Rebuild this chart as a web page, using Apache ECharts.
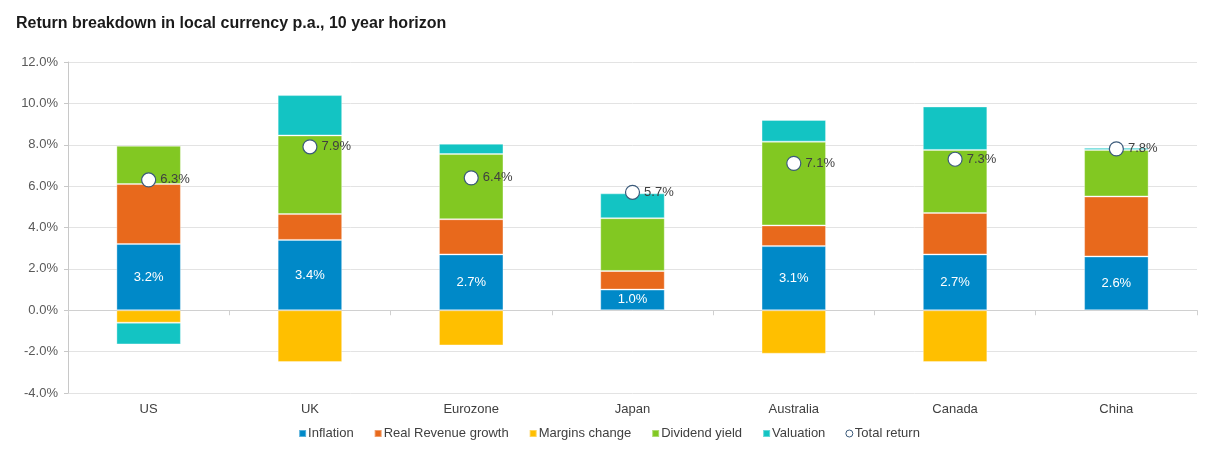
<!DOCTYPE html>
<html>
<head>
<meta charset="utf-8">
<script src="https://cdn.jsdelivr.net/npm/echarts@6/dist/echarts.min.js"></script>
<style>html,body{margin:0;padding:0;background:#fff}#c{width:1218px;height:454px}</style>
</head>
<body>
<div id="c"></div>
<script>
const categories = ['US','UK','Eurozone','Japan','Australia','Canada','China'];
const inflation = [3.2, 3.4, 2.7, 1.0, 3.1, 2.7, 2.6];
const realRevenue = [2.9, 1.25, 1.7, 0.9, 1.0, 2.0, 2.9];
const margins = [-0.6, -2.5, -1.7, 0, -2.1, -2.5, 0];
const dividend = [1.85, 3.8, 3.15, 2.55, 4.05, 3.05, 2.25];
const valuation = [-1.05, 1.95, 0.5, 1.2, 1.05, 2.1, 0.1];
const totalReturn = [6.3, 7.9, 6.4, 5.7, 7.1, 7.3, 7.8];
const yTicks = [-4, -2, 0, 2, 4, 6, 8, 10, 12];

const font = 'Liberation Sans, Arial, sans-serif';
const chart = echarts.init(document.getElementById('c'));
function barSeries(name, data, color, label) {
  return {
    name, type: 'bar', stack: 'total', data, barWidth: '40%', xAxisIndex: 0,
    itemStyle: { color, borderColor: 'rgba(255,255,255,0.35)', borderWidth: 1 },
    label: label ? { show: true, position: 'inside', color: '#fff', fontSize: 13, fontFamily: font,
      formatter: p => p.value.toFixed(1) + '%' } : { show: false },
    emphasis: { disabled: true }
  };
}
chart.setOption({
  animation: false,
  title: { text: 'Return breakdown in local currency p.a., 10 year horizon', left: 11, top: 11,
    textStyle: { fontFamily: font, fontSize: 16, fontWeight: 'bold', color: '#1a1a1a' } },
  grid: { left: 68, right: 21, top: 62, bottom: 61 },
  legend: {
    bottom: 9, left: 'center', itemWidth: 7, itemHeight: 7, itemGap: 20,
    textStyle: { fontFamily: font, fontSize: 13, color: '#404040', padding: [0, 0, 0, -3] },
    data: [
      { name: 'Inflation', icon: 'rect' },
      { name: 'Real Revenue growth', icon: 'rect' },
      { name: 'Margins change', icon: 'rect' },
      { name: 'Dividend yield', icon: 'rect' },
      { name: 'Valuation', icon: 'rect' },
      { name: 'Total return', icon: 'circle', itemStyle: { color: '#fff', borderColor: '#3b5a7a', borderWidth: 1, opacity: 1 } }
    ]
  },
  xAxis: [
    { type: 'category', data: categories, position: 'bottom',
      axisLine: { show: false, onZero: false }, axisTick: { show: false },
      axisLabel: { fontFamily: font, fontSize: 13, color: '#404040', margin: 10 } },
    { type: 'category', data: categories, position: 'bottom',
      axisLine: { show: true, onZero: true, lineStyle: { color: '#d0d0d0', width: 1 } },
      axisTick: { show: true, length: 5, lineStyle: { color: '#d0d0d0' } },
      axisLabel: { show: false } }
  ],
  yAxis: {
    type: 'value', min: yTicks[0], max: yTicks[yTicks.length - 1], interval: 2,
    axisLine: { show: true, lineStyle: { color: '#c8c8c8' } },
    axisTick: { show: true, length: 4, lineStyle: { color: '#c8c8c8' } },
    axisLabel: { fontFamily: font, fontSize: 13, color: '#595959', margin: 10,
      formatter: v => v.toFixed(1) + '%' },
    splitLine: { lineStyle: { color: '#e3e3e3' } }
  },
  series: [
    barSeries('Inflation', inflation, '#0089C8', true),
    barSeries('Real Revenue growth', realRevenue, '#E8691C'),
    barSeries('Margins change', margins, '#FFBF00'),
    barSeries('Dividend yield', dividend, '#82C822'),
    barSeries('Valuation', valuation, '#13C4C3'),
    { name: 'Total return', type: 'scatter', data: totalReturn, symbol: 'circle', symbolSize: 14, z: 10,
      itemStyle: { color: '#ffffff', borderColor: '#3b5a7a', borderWidth: 1.2, opacity: 1 },
      label: { show: true, position: 'right', distance: 4, color: '#404040', fontSize: 13, fontFamily: font,
        formatter: p => p.value.toFixed(1) + '%' },
      emphasis: { disabled: true } }
  ]
});
</script>
</body>
</html>
